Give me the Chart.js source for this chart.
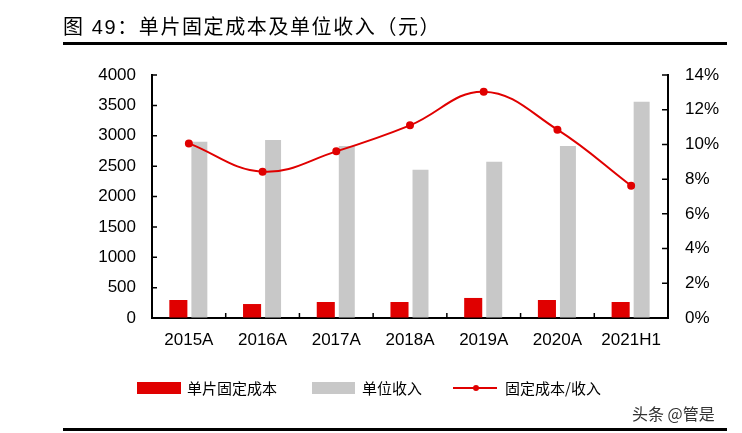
<!DOCTYPE html>
<html>
<head>
<meta charset="utf-8">
<script src="https://cdn.jsdelivr.net/npm/chart.js@4"></script>
<style>
  html,body{margin:0;padding:0;background:#fff;}
  #wrap{position:relative;width:742px;height:433px;overflow:hidden;font-family:"Liberation Sans","Noto Sans CJK SC",sans-serif;}
  #c{position:absolute;left:0;top:0;}
  .title{position:absolute;left:63px;top:11px;font-size:20px;letter-spacing:1.6px;color:#000;font-family:"Liberation Sans","Noto Sans CJK SC",sans-serif;white-space:nowrap;}
  .rule{position:absolute;left:63px;width:664px;background:#000;}
  .leg{position:absolute;top:379px;font-size:15px;line-height:18px;color:#000;font-family:"Noto Sans CJK SC",sans-serif;white-space:nowrap;}
  .box{position:absolute;top:382px;height:12px;}
  .wm{position:absolute;left:632px;top:401px;font-size:16px;color:#333;font-family:"Noto Sans CJK SC",sans-serif;white-space:nowrap;}
</style>
</head>
<body>
<div id="wrap">
  <canvas id="c" width="742" height="433"></canvas>
  <div class="title">图 49：单片固定成本及单位收入（元）</div>
  <div class="rule" style="top:42px;height:3px;"></div>
  <div class="box" style="left:137px;width:44px;background:#e00000;"></div>
  <div class="leg" style="left:187px;">单片固定成本</div>
  <div class="box" style="left:312px;width:43px;background:#c8c8c8;"></div>
  <div class="leg" style="left:362px;">单位收入</div>
  <div style="position:absolute;left:453px;top:387px;width:44px;height:2px;background:#e00000;"></div>
  <div style="position:absolute;left:473px;top:385px;width:6px;height:6px;border-radius:50%;background:#e00000;"></div>
  <div class="leg" style="left:505px;">固定成本/收入</div>
  <div class="wm">头条 @管是</div>
  <div class="rule" style="top:428px;height:3px;"></div>
</div>
<script>
const categories = ['2015A','2016A','2017A','2018A','2019A','2020A','2021H1'];
const fixedCost = [296, 230, 263, 263, 330, 296, 263];
const unitRevenue = [2900, 2930, 2830, 2440, 2570, 2830, 3560];
const costRatio = [10.06, 8.43, 9.6, 11.1, 13.04, 10.85, 7.62];
const leftTicks = {min:0, max:4000, step:500};
const rightTicks = {min:0, max:14, step:2};

const inwardTicks = {
  id:'inwardTicks',
  afterDraw(chart){
    const ctx = chart.ctx, a = chart.chartArea;
    const {x, y, y1} = chart.scales;
    ctx.save();
    ctx.strokeStyle = '#000';
    ctx.lineWidth = 1.5;
    ctx.beginPath();
    y.ticks.forEach((t,i)=>{ const p = y.getPixelForTick(i); ctx.moveTo(a.left, p); ctx.lineTo(a.left+5, p); });
    y1.ticks.forEach((t,i)=>{ const p = y1.getPixelForTick(i); ctx.moveTo(a.right, p); ctx.lineTo(a.right-6, p); });
    for (let i=0;i<categories.length-1;i++){
      const p = (x.getPixelForValue(i)+x.getPixelForValue(i+1))/2;
      ctx.moveTo(p, a.bottom); ctx.lineTo(p, a.bottom-5);
    }
    ctx.stroke();
    ctx.restore();
  }
};

const tickFont = {family:'"Liberation Sans", Arial, sans-serif', size:17};

new Chart(document.getElementById('c'), {
  data:{
    labels:categories,
    datasets:[
      {type:'line', label:'固定成本/收入', data:costRatio, yAxisID:'y1', order:0,
       borderColor:'#e00000', backgroundColor:'#e00000', borderWidth:2,
       pointRadius:3, pointHoverRadius:3, tension:0.4, fill:false},
      {type:'bar', label:'单片固定成本', data:fixedCost, yAxisID:'y', order:1,
       backgroundColor:'#e00000', categoryPercentage:0.57, barPercentage:0.86},
      {type:'bar', label:'单位收入', data:unitRevenue, yAxisID:'y', order:2,
       backgroundColor:'#c8c8c8', categoryPercentage:0.57, barPercentage:0.76}
    ]
  },
  options:{
    responsive:false,
    animation:false,
    devicePixelRatio:1,
    layout:{padding:{top:75,left:0,right:0,bottom:0}},
    plugins:{legend:{display:false}, tooltip:{enabled:false}},
    scales:{
      x:{
        grid:{drawOnChartArea:false, drawTicks:false, offset:true},
        border:{display:true, color:'#000', width:2},
        ticks:{color:'#000', font:tickFont, padding:12, maxRotation:0, autoSkip:false},
        afterFit(s){ s.height = 433-318; }
      },
      y:{
        position:'left', min:leftTicks.min, max:leftTicks.max,
        grid:{drawOnChartArea:false, drawTicks:false},
        border:{display:true, color:'#000', width:2},
        ticks:{stepSize:leftTicks.step, color:'#000', font:tickFont, padding:16, callback:v=>String(v)},
        afterFit(s){ s.width = 152; }
      },
      y1:{
        position:'right', min:rightTicks.min, max:rightTicks.max,
        grid:{drawOnChartArea:false, drawTicks:false},
        border:{display:true, color:'#000', width:2},
        ticks:{stepSize:rightTicks.step, color:'#000', font:tickFont, padding:17, callback:v=>v+'%'},
        afterFit(s){ s.width = 742-668; }
      }
    }
  },
  plugins:[inwardTicks]
});
</script>
</body>
</html>
